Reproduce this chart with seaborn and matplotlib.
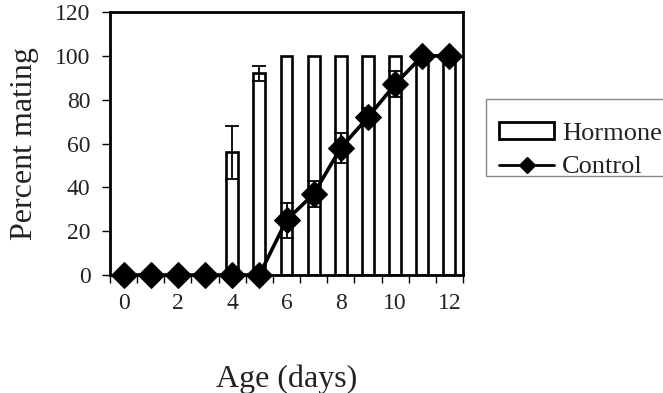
import matplotlib
matplotlib.use("Agg")
import matplotlib.pyplot as plt
import seaborn as sns
import numpy as np
import pandas as pd
from matplotlib.lines import Line2D
from matplotlib.patches import Patch, Rectangle

ages = [0, 1, 2, 3, 4, 5, 6, 7, 8, 9, 10, 11, 12]
hormone = [0, 0, 0, 0, 56, 92, 100, 100, 100, 100, 100, 100, 100]
hormone_err = [0, 0, 0, 0, 12, 3.5, 0, 0, 0, 0, 0, 0, 0]
control = [0, 0, 0, 0, 0, 0, 25, 37, 58, 72, 87, 100, 100]
control_err = [0, 0, 0, 0, 0, 0, 8, 6, 7, 4, 6, 0, 0]
xtick_labels = ["0", "2", "4", "6", "8", "10", "12"]
yticks = [0, 20, 40, 60, 80, 100, 120]

sns.set_style("white")
plt.rcParams['font.family'] = ['Liberation Serif', 'DejaVu Serif']

df = pd.DataFrame({"age": ages, "hormone": hormone, "control": control})

W, H = 663, 393
fig = plt.figure(figsize=(W/100, H/100), dpi=100)
ax = fig.add_axes([110/W, (H-275)/H, 353/W, (275-12)/H])

sns.barplot(data=df, x="age", y="hormone", order=ages, color="white",
            edgecolor="black", linewidth=1.9, width=0.44, ax=ax, zorder=2)
for p in ax.patches:
    p.set_facecolor("white")

herr_x = [a for a, e in zip(ages, hormone_err) if e > 0]
herr_y = [h for h, e in zip(hormone, hormone_err) if e > 0]
herr_e = [e for e in hormone_err if e > 0]
ax.errorbar(herr_x, herr_y, yerr=herr_e, fmt="none", ecolor="black",
            elinewidth=1.3, capsize=5, capthick=1.3, zorder=3)

cerr_x = [a for a, e in zip(ages, control_err) if e > 0]
cerr_y = [c for c, e in zip(control, control_err) if e > 0]
cerr_e = [e for e in control_err if e > 0]
ax.errorbar(cerr_x, cerr_y, yerr=cerr_e, fmt="none", ecolor="black",
            elinewidth=1.3, capsize=5, capthick=1.3, zorder=4)

sns.lineplot(data=df, x="age", y="control", color="black", linewidth=2.6,
             marker="D", markersize=13, markeredgecolor="black",
             markerfacecolor="black", ax=ax, zorder=5)
for ln in ax.lines:
    ln.set_clip_on(False)

ax.set_xlim(-0.5, 12.5)
ax.set_ylim(0, 120)
ax.set_yticks(yticks)
ax.set_yticklabels([str(v) for v in yticks])
ax.set_xticks([0, 2, 4, 6, 8, 10, 12])
ax.set_xticklabels(xtick_labels)
ax.set_xticks(np.arange(-0.5, 13.0, 1.0), minor=True)
ax.tick_params(axis="x", which="major", length=0, pad=13, labelsize=17, labelcolor="#222222")
ax.tick_params(axis="x", which="minor", length=6, width=1.0, direction="out",
               bottom=True, color="black")
ax.tick_params(axis="y", which="major", length=6, width=1.0, direction="out",
               left=True, pad=8, labelsize=17, color="black", labelcolor="#222222")
ax.set_xlabel("Age (days)", fontsize=23, labelpad=36, color="#222222")
ax.set_ylabel("Percent mating", fontsize=23, labelpad=12, color="#222222")
for s in ax.spines.values():
    s.set_visible(True)
    s.set_linewidth(2.0)
    s.set_color("black")
ax.grid(False)

# legend frame (extends past right edge like the reference)
fig.patches.append(Rectangle((486/W, 1 - 176/H), 200/W, 77/H,
                             transform=fig.transFigure, facecolor="white",
                             edgecolor="#888888", linewidth=1.0, zorder=0))

handles = [Patch(facecolor="white", edgecolor="black", linewidth=2.0),
           Line2D([0], [0], color="black", linewidth=2.0, marker="D",
                  markersize=8, markerfacecolor="black")]
leg = fig.legend(handles, ["Hormone", "Control"], loc="upper left",
                 bbox_to_anchor=(499/W, 1 - 122/H), fontsize=19,
                 frameon=False, handlelength=2.1,
                 handleheight=0.6, handletextpad=0.3, borderpad=0,
                 labelspacing=0.42, borderaxespad=0)
for t in leg.get_texts():
    t.set_color("#222222")

fig.savefig("out.png", dpi=100)
